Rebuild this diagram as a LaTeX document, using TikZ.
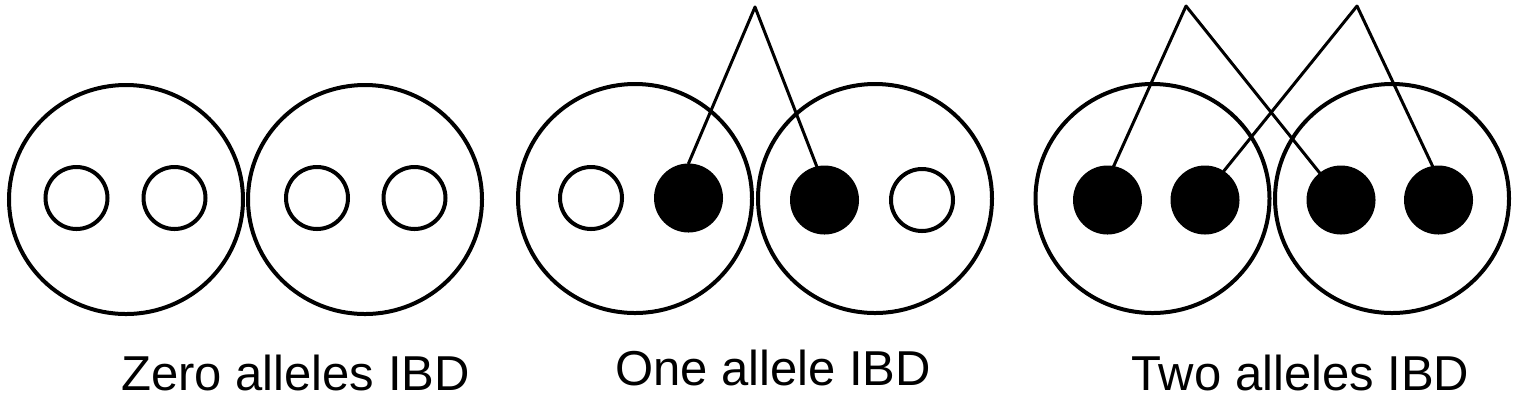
\documentclass[tikz,border=0pt]{standalone}
\usepackage{fontspec}
\setmainfont{Liberation Sans}
\usetikzlibrary{shapes.geometric,calc}
\tikzset{
  cell/.style={ellipse,draw=black,line width=2pt,minimum width=117pt,minimum height=114.5pt,inner sep=0pt},
  wdot/.style={circle,draw=black,fill=white,line width=2pt,minimum size=31pt,inner sep=0pt},
  bdot/.style={circle,draw=black,fill=black,line width=2pt,minimum size=32.5pt,inner sep=0pt},
  link/.style={draw=black,line width=1.5pt,line cap=round},
  caption/.style={anchor=base,inner sep=0pt,font=\fontsize{24.5}{29}\selectfont}
}
\begin{document}
\begin{tikzpicture}[x=0.5pt,y=-0.5pt]
\useasboundingbox (0,0) rectangle (1518,409);
% group 1
\node[cell] (A1) at (126,199.5) {};
\node[cell] (A2) at (365,199.5) {};
\node[wdot] (a1) at (76.5,198) {};
\node[wdot] (a2) at (174.5,198) {};
\node[wdot] (a3) at (317,198) {};
\node[wdot] (a4) at (414.5,198) {};
% group 2
\node[cell] (B1) at (635,198.5) {};
\node[cell] (B2) at (875,198.5) {};
\node[wdot] (b1) at (591,198) {};
\node[bdot] (b2) at (688.5,198) {};
\node[bdot] (b3) at (824.5,200) {};
\node[wdot] (b4) at (922,200) {};
\coordinate (pb) at (755,7);
\draw[link] (pb) -- (b2.north);
\draw[link] (pb) -- (b3.103);
% group 3
\node[cell] (C1) at (1152.5,198.5) {};
\node[cell] (C2) at (1392,198.5) {};
\node[bdot] (c1) at (1107.5,200) {};
\node[bdot] (c2) at (1205,200) {};
\node[bdot] (c3) at (1341,200) {};
\node[bdot] (c4) at (1438.5,200) {};
\coordinate (pc1) at (1186,6);
\coordinate (pc2) at (1357,6);
\draw[link] (pc1) -- ($(c1.center)+(-5.5,-8)$);
\draw[link] (pc1) -- ($(c3.center)+(14,17)$);
\draw[link] (pc2) -- (c2.57);
\draw[link] (pc2) -- (c4.100);
% captions
\node[caption] (t1) at (295.5,390) {Zero alleles IBD};
\node[caption] (t2) at (773,385) {One allele IBD};
\node[caption] (t3) at (1300.5,390) {Two alleles IBD};
\end{tikzpicture}
\end{document}
